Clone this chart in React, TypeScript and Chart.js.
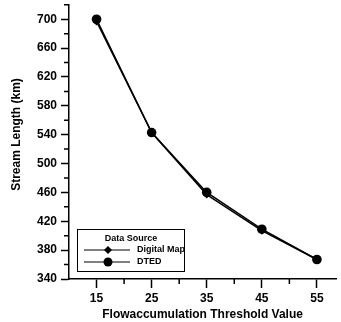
import React, { useEffect, useRef } from "react";
import { Chart, registerables } from "chart.js";

Chart.register(...registerables);

const thresholds = [15, 25, 35, 45, 55];
const digitalMap = [697, 543, 457, 407, 367];
const dted = [700, 543, 460, 409, 367];
const xMajorTicks = [15, 25, 35, 45, 55];
const xMinorTicks = [20, 30, 40, 50];
const yMajorTicks = [340, 380, 420, 460, 500, 540, 580, 620, 660, 700];
const yMinorTicks = [360, 400, 440, 480, 520, 560, 600, 640, 680, 720];
const seriesNames = ["Digital Map", "DTED"];
const legendTitle = "Data Source";
const xTitle = "Flowaccumulation Threshold Value";
const yTitle = "Stream Length (km)";

const FONT = "Arial, 'Liberation Sans', sans-serif";

const minorTickPlugin = {
  id: "minorTicks",
  afterDraw(chart: any) {
    const ctx = chart.ctx;
    const xs = chart.scales.x;
    const ys = chart.scales.y;
    ctx.save();
    ctx.strokeStyle = "#000";
    ctx.lineWidth = 1.5;
    ctx.beginPath();
    for (const v of xMinorTicks) {
      const px = xs.getPixelForValue(v);
      ctx.moveTo(px, xs.top);
      ctx.lineTo(px, xs.top + 5);
    }
    for (const v of yMinorTicks) {
      const py = ys.getPixelForValue(v);
      ctx.moveTo(ys.right, py);
      ctx.lineTo(ys.right - 5, py);
    }
    ctx.stroke();
    // y axis title
    ctx.fillStyle = "#000";
    ctx.font = "bold 12px " + FONT;
    ctx.textAlign = "center";
    ctx.textBaseline = "middle";
    ctx.translate(17, ys.top + (ys.bottom - ys.top) * 0.473);
    ctx.rotate(-Math.PI / 2);
    ctx.fillText(yTitle, 0, 0);
    ctx.restore();
  },
};

const legendPlugin = {
  id: "boxLegend",
  afterDraw(chart: any) {
    const ctx = chart.ctx;
    const ca = chart.chartArea;
    const x0 = ca.left + 8;
    const y0 = ca.bottom - 50;
    const w = 107;
    const h = 42;
    ctx.save();
    ctx.fillStyle = "#fff";
    ctx.fillRect(x0, y0, w, h);
    ctx.strokeStyle = "#000";
    ctx.lineWidth = 1;
    ctx.strokeRect(x0 + 0.5, y0 + 0.5, w, h);
    ctx.fillStyle = "#000";
    ctx.font = "bold 9px " + FONT;
    ctx.textAlign = "center";
    ctx.textBaseline = "middle";
    ctx.fillText(legendTitle, x0 + 54, y0 + 10);
    ctx.textAlign = "left";
    const rows = [y0 + 21, y0 + 33];
    rows.forEach((ry, i) => {
      ctx.beginPath();
      ctx.lineWidth = 1.2;
      ctx.moveTo(x0 + 7, ry);
      ctx.lineTo(x0 + 53, ry);
      ctx.stroke();
      const mx = x0 + 31;
      ctx.beginPath();
      if (i === 0) {
        const r = 4;
        ctx.moveTo(mx, ry - r);
        ctx.lineTo(mx + r, ry);
        ctx.lineTo(mx, ry + r);
        ctx.lineTo(mx - r, ry);
        ctx.closePath();
      } else {
        ctx.arc(mx, ry, 4.5, 0, Math.PI * 2);
      }
      ctx.fill();
      ctx.fillText(seriesNames[i], x0 + 60, ry);
    });
    ctx.restore();
  },
};

export default function App() {
  const ref = useRef<HTMLCanvasElement>(null);
  useEffect(() => {
    if (!ref.current) return;
    const chart = new Chart(ref.current, {
      type: "line",
      data: {
        datasets: [
          {
            label: seriesNames[0],
            data: thresholds.map((t, i) => ({ x: t, y: digitalMap[i] })),
            borderColor: "#000",
            backgroundColor: "#000",
            borderWidth: 1.5,
            pointStyle: "rectRot",
            pointRadius: 4,
            pointBorderWidth: 0,
          },
          {
            label: seriesNames[1],
            data: thresholds.map((t, i) => ({ x: t, y: dted[i] })),
            borderColor: "#000",
            backgroundColor: "#000",
            borderWidth: 1.5,
            pointStyle: "circle",
            pointRadius: 4.8,
            pointBorderWidth: 0,
          },
        ],
      },
      options: {
        responsive: false,
        animation: false,
        layout: { padding: { top: 4, right: 0, left: 0, bottom: 0 } },
        plugins: {
          legend: { display: false },
          tooltip: { enabled: false },
        },
        scales: {
          x: {
            type: "linear",
            min: 10,
            max: 58.5,
            afterFit: (s: any) => {
              s.height = 43;
              s.paddingLeft = 0;
              s.paddingRight = 0;
            },
            afterBuildTicks: (s: any) => {
              s.ticks = xMajorTicks.map((v) => ({ value: v }));
            },
            border: { display: true, color: "#000", width: 1.5 },
            grid: {
              drawOnChartArea: false,
              drawTicks: true,
              tickLength: 9,
              tickColor: "#000",
              tickWidth: 1.5,
            },
            ticks: {
              color: "#000",
              font: { family: FONT, size: 12, weight: "bold" },
              padding: 3,
              maxRotation: 0,
              autoSkip: false,
            },
            title: {
              display: true,
              text: xTitle,
              color: "#000",
              font: { family: FONT, size: 12, weight: "bold" },
              padding: { top: 0, bottom: 0 },
            },
          },
          y: {
            type: "linear",
            min: 340,
            max: 720,
            afterFit: (s: any) => {
              s.width = 69;
              s.paddingTop = 0;
              s.paddingBottom = 0;
            },
            afterBuildTicks: (s: any) => {
              s.ticks = yMajorTicks.map((v) => ({ value: v }));
            },
            border: { display: true, color: "#000", width: 1.5 },
            grid: {
              drawOnChartArea: false,
              drawTicks: true,
              tickLength: 8,
              tickColor: "#000",
              tickWidth: 1.5,
            },
            ticks: {
              color: "#000",
              font: { family: FONT, size: 12, weight: "bold" },
              padding: 4,
              autoSkip: false,
            },
            title: { display: false },
          },
        },
      },
      plugins: [minorTickPlugin, legendPlugin],
    });
    return () => chart.destroy();
  }, []);
  return (
    <div style={{ position: "fixed", left: 0, top: 0, width: 341, height: 322, background: "#fff" }}>
      <canvas ref={ref} width={341} height={322} />
    </div>
  );
}
